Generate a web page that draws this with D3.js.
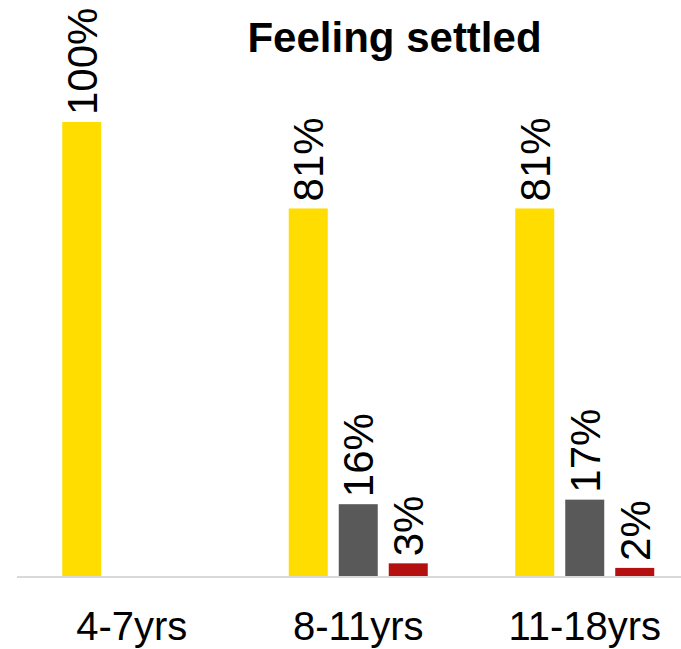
<!DOCTYPE html>
<html>
<head>
<meta charset="utf-8">
<script src="https://cdn.jsdelivr.net/npm/d3@7/dist/d3.min.js"></script>
<style>
html,body{margin:0;padding:0;background:#fff;}
svg{display:block;font-family:"Liberation Sans",Arial,sans-serif;}
</style>
</head>
<body>
<svg id="chart" width="681" height="649"></svg>
<script>
const title = "Feeling settled";
const categories = ["4-7yrs", "8-11yrs", "11-18yrs"];
const seriesNames = ["Settled", "Neutral", "Not settled"];
const seriesColors = ["#FFDD00", "#595959", "#B3100F"];
const settled = [100, 81, 81];
const neutral = [null, 16, 17];
const notSettled = [null, 3, 2];

const seriesValues = [settled, neutral, notSettled];
const rows = [];
categories.forEach((c, i) => {
  seriesNames.forEach((s, j) => {
    const v = seriesValues[j][i];
    if (v !== null && v !== undefined) rows.push({cat: c, series: s, value: v, color: seriesColors[j]});
  });
});

const svg = d3.select("#chart");
const baseY = 577, topY = 122;

const x0 = d3.scaleBand().domain(categories).range([18.5, 698]).padding(0);
const x1 = d3.scaleBand().domain(seriesNames).range([0, x0.bandwidth()])
  .paddingInner(0.22).paddingOuter(0.875);
const y = d3.scaleLinear().domain([0, 100]).range([baseY, topY]);

// title
svg.append("text")
  .attr("x", 394.5).attr("y", 52)
  .attr("text-anchor", "middle")
  .attr("font-weight", "bold")
  .attr("font-size", 42)
  .attr("fill", "#000")
  .text(title);

// bars
svg.append("g").selectAll("rect").data(rows).join("rect")
  .attr("x", d => x0(d.cat) + x1(d.series))
  .attr("width", x1.bandwidth())
  .attr("y", d => y(d.value))
  .attr("height", d => baseY - y(d.value))
  .attr("fill", d => d.color);

// value labels
svg.append("g").selectAll("text").data(rows).join("text")
  .attr("transform", d => {
    const cx = x0(d.cat) + x1(d.series) + x1.bandwidth() / 2;
    const cy = y(d.value) - 7;
    return `translate(${cx},${cy}) rotate(-90)`;
  })
  .attr("dy", "0.36em")
  .attr("text-anchor", "start")
  .attr("font-size", 42)
  .attr("fill", "#000")
  .text(d => d.value + "%");

// baseline axis
const axis = d3.axisBottom(x0).tickSize(0).tickPadding(0);
const gAxis = svg.append("g").attr("transform", `translate(0,${baseY})`).call(axis);
gAxis.select(".domain").remove();
gAxis.append("line")
  .attr("x1", 17).attr("x2", 681).attr("y1", 0).attr("y2", 0)
  .attr("stroke", "#D9D9D9").attr("stroke-width", 2);
gAxis.selectAll(".tick text")
  .attr("y", 63).attr("dy", 0)
  .attr("font-size", 40)
  .attr("font-family", "Liberation Sans, Arial, sans-serif")
  .attr("fill", "#000");
</script>
</body>
</html>
